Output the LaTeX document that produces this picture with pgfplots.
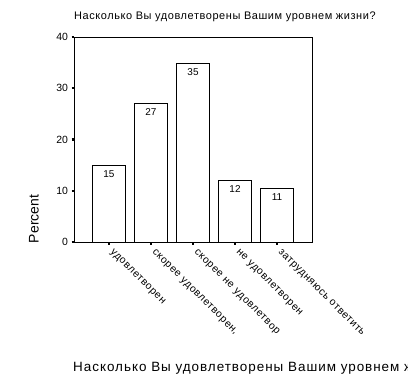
\documentclass[border=0pt]{standalone}
\usepackage{pgfplots}
\pgfplotsset{compat=1.18}
\usepackage{fontspec}
\setmainfont{Liberation Sans}
\begin{document}
\begin{tikzpicture}[x=1bp,y=1bp]
\useasboundingbox (0,0) rectangle (408,-392);
\begin{axis}[
  at={(74bp,-242bp)}, anchor=south west,
  scale only axis, width=238bp, height=205bp,
  xmin=-0.833, xmax=4.833, ymin=0, ymax=40,
  axis line style={line width=1bp},
  ytick={0,10,20,30,40},
  xtick={0,1,2,3,4},
  xticklabels={удовлетворен,скорее удовлетворен\rlap{,},скорее не удовлетвор,не удовлетворен,затрудняюсь ответить},
  xtick pos=bottom, ytick pos=left,
  tick align=outside,
  major tick length=2.5bp,
  every tick/.style={black, line width=2.2bp},
  /pgf/number format/assume math mode=true,
  yticklabel style={font=\fontsize{10.5}{12}\selectfont},
  xticklabel style={font=\fontsize{10.5}{12}\selectfont\addfontfeature{LetterSpace=6}, xshift=5bp, yshift=-2bp, rotate=-45, anchor=north west, inner sep=1bp},
  ybar, bar width=33.5bp,
  point meta=explicit symbolic,
  nodes near coords,
  every node near coord/.append style={anchor=north, inner sep=0pt, yshift=-5bp, font=\fontsize{10}{12}\selectfont, black},
]
\addplot[draw=black, fill=white, line width=1bp] coordinates {
  (0,15.0) [15]
  (1,27.1) [27]
  (2,34.9) [35]
  (3,12.0) [12]
  (4,10.5) [11]
};
\end{axis}
\node[anchor=west, inner sep=0pt, font=\fontsize{11}{13}\selectfont\addfontfeature{LetterSpace=5.3}] at (74,-17) {Насколько Вы удовлетворены Вашим уровнем жизни?};
\node[anchor=west, inner sep=0pt, font=\fontsize{13.5}{16}\selectfont\addfontfeature{LetterSpace=7.3}] at (73,-368) {Насколько Вы удовлетворены Вашим уровнем жизни?};
\node[rotate=90, inner sep=0pt, font=\fontsize{14}{16}\selectfont] at (34,-219) {Percent};
\end{tikzpicture}
\end{document}
